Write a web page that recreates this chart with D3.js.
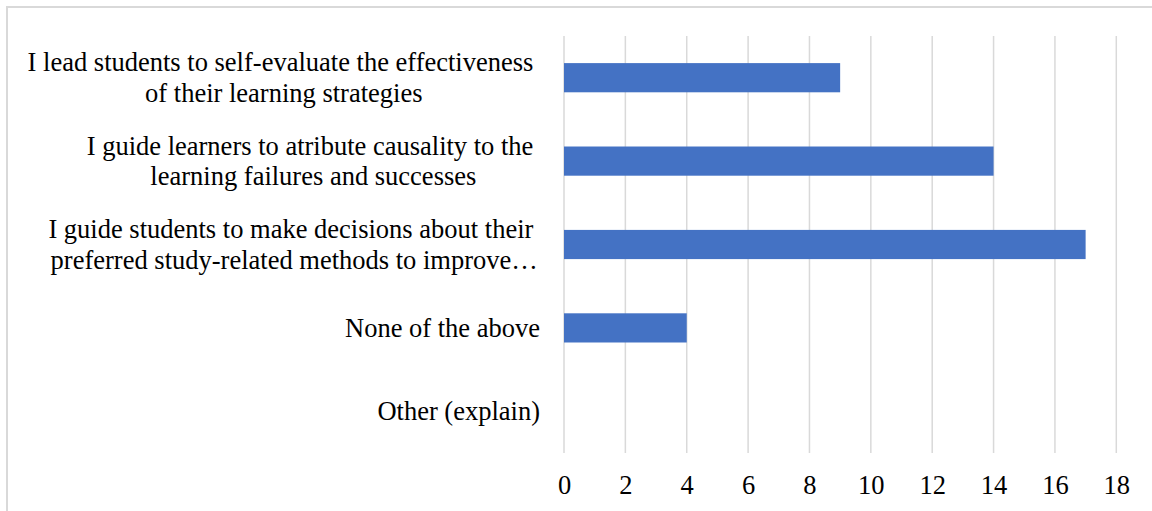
<!DOCTYPE html>
<html>
<head>
<meta charset="utf-8">
<script src="https://cdn.jsdelivr.net/npm/d3@7"></script>
<style>
  html, body { margin: 0; padding: 0; background: #fff; }
  svg { display: block; }
  text { font-family: "Times New Roman", "Liberation Serif", Tinos, "DejaVu Serif", serif; fill: #000; }
</style>
</head>
<body>
<svg id="chart" width="1152" height="511"></svg>
<script>
// Category labels (line breaks as shown on the axis), top to bottom
const categories = [
  "I lead students to self-evaluate the effectiveness\nof their learning strategies",
  "I guide learners to atribute causality to the\nlearning failures and successes",
  "I guide students to make decisions about their\npreferred study-related methods to improve…",
  "None of the above",
  "Other (explain)"
];
// Number of respondents per category
const values = [9, 14, 17, 4, 0];
// Value axis ticks
const tickValues = [0, 2, 4, 6, 8, 10, 12, 14, 16, 18];

const svg = d3.select("#chart");
const W = 1152, H = 511;
const fontSize = 26.5;
const lineH = 30.6;

// Chart area frame
svg.append("rect")
  .attr("x", 7).attr("y", 7)
  .attr("width", W + 10).attr("height", H + 10)
  .attr("fill", "none")
  .attr("stroke", "#d9d9d9")
  .attr("stroke-width", 2);

const plot = { left: 564, right: 1116.3, top: 36, bottom: 453 };

const x = d3.scaleLinear().domain([0, 18]).range([plot.left, plot.right]);
const y = d3.scaleBand()
  .domain(categories)
  .range([plot.top, plot.bottom])
  .paddingInner(0.65)
  .paddingOuter(0.325);

// Vertical gridlines
svg.append("g")
  .selectAll("line")
  .data(tickValues)
  .join("line")
  .attr("x1", d => x(d)).attr("x2", d => x(d))
  .attr("y1", plot.top).attr("y2", plot.bottom)
  .attr("stroke", "#d9d9d9")
  .attr("stroke-width", 1.5);

// Bars
svg.append("g")
  .selectAll("rect")
  .data(values)
  .join("rect")
  .attr("x", x(0))
  .attr("y", (d, i) => y(categories[i]))
  .attr("width", d => x(d) - x(0))
  .attr("height", y.bandwidth())
  .attr("fill", "#4472c4");

// Value axis labels
const xAxis = d3.axisBottom(x).tickValues(tickValues).tickSize(0).tickPadding(0);
const gx = svg.append("g")
  .attr("transform", `translate(0, ${plot.bottom + 41})`)
  .call(xAxis)
  .attr("font-family", null)
  .attr("font-size", null);
gx.select(".domain").remove();
gx.selectAll("text")
  .attr("dy", 0)
  .attr("y", 0)
  .style("font-size", fontSize + "px");

// Text measuring helper
const probe = svg.append("text").style("font-size", fontSize + "px").attr("visibility", "hidden");
function textWidth(s) { probe.text(s); return probe.node().getComputedTextLength(); }
const spaceW = textWidth("a a") - textWidth("aa");

// Category labels: wrapped lines centred inside a block whose right edge sits by the axis
const labelRight = 540;
const gy = svg.append("g");
categories.forEach(c => {
  const lines = c.split("\n");
  const widths = lines.map((ln, i) => textWidth(ln) + (i < lines.length - 1 ? spaceW : 0));
  const blockW = d3.max(widths);
  const cx = labelRight - blockW / 2;
  const cy = y(c) + y.bandwidth() / 2;
  const t = gy.append("text")
    .attr("text-anchor", "middle")
    .style("font-size", fontSize + "px");
  lines.forEach((ln, i) => {
    const shift = i < lines.length - 1 ? -spaceW / 2 : 0;
    t.append("tspan")
      .attr("x", cx + shift)
      .attr("y", cy + (i - (lines.length - 1) / 2) * lineH)
      .attr("dy", "0.33em")
      .text(ln);
  });
});
probe.remove();
</script>
</body>
</html>
